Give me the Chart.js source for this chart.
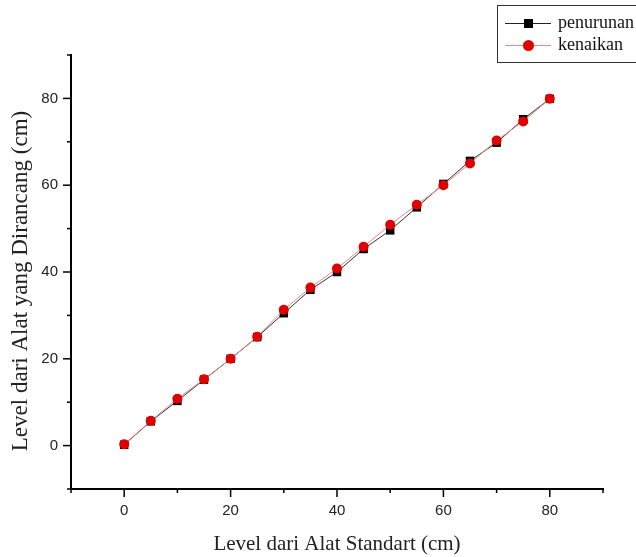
<!DOCTYPE html>
<html>
<head>
<meta charset="utf-8">
<script src="https://cdn.jsdelivr.net/npm/chart.js@4"></script>
<style>
  body { margin: 0; background: #fff; }
  #wrap { position: relative; width: 636px; height: 557px; overflow: hidden; }
  #legend {
    position: absolute; left: 497px; top: 5px; width: 150px; height: 56px;
    border: 1px solid #333; font-family: "Liberation Serif", "Times New Roman", serif;
    font-size: 18px; color: #111;
  }
  .row { position: absolute; left: 0; height: 20px; }
  .row .ln { position: absolute; left: 7px; top: 10px; width: 46px; height: 1px; }
  .row .mk { position: absolute; }
  .row .tx { position: absolute; left: 60px; top: -1px; white-space: nowrap; line-height: 20px; }
</style>
</head>
<body>
<div id="wrap">
  <canvas id="chart" width="636" height="557"></canvas>
  <div id="legend">
    <div class="row" style="top:7px">
      <div class="ln" style="background:#222"></div>
      <div class="mk" style="left:26px;top:6px;width:9px;height:9px;background:#000"></div>
      <div class="tx">penurunan</div>
    </div>
    <div class="row" style="top:29px">
      <div class="ln" style="background:#e88"></div>
      <div class="mk" style="left:25px;top:5px;width:11px;height:11px;border-radius:50%;background:#e00000"></div>
      <div class="tx">kenaikan</div>
    </div>
  </div>
</div>
<script>
// nilai
const levelStandart = [0, 5, 10, 15, 20, 25, 30, 35, 40, 45, 50, 55, 60, 65, 70, 75, 80];
const penurunan = [0.2, 5.6, 10.3, 15.2, 20.0, 25.0, 30.5, 35.9, 40.0, 45.3, 49.6, 54.9, 60.3, 65.6, 69.8, 75.2, 79.9];
const kenaikan = [0.3, 5.7, 10.8, 15.3, 20.0, 25.1, 31.3, 36.4, 40.8, 45.8, 50.9, 55.5, 60.0, 65.0, 70.3, 74.7, 79.9];
const majorTicks = [0, 20, 40, 60, 80];
const yTitle = "Level dari Alat yang Dirancang (cm)";

const toPoints = (ys) => levelStandart.map((x, i) => ({ x, y: ys[i] }));

// garis tick mayor/minor seperti di grafik asli
const tickMarks = {
  id: "tickMarks",
  afterDraw(chart) {
    const { ctx, scales } = chart;
    const xs = scales.x, ys = scales.y;
    ctx.save();
    ctx.strokeStyle = "#000";
    ctx.lineWidth = 1.5;
    for (let v = -10; v <= 90; v += 10) {
      const len = majorTicks.includes(v) ? 8 : 4;
      const px = xs.getPixelForValue(v);
      ctx.beginPath();
      ctx.moveTo(px, xs.top);
      ctx.lineTo(px, xs.top + len);
      ctx.stroke();
      const py = ys.getPixelForValue(v);
      ctx.beginPath();
      ctx.moveTo(ys.right, py);
      ctx.lineTo(ys.right - len, py);
      ctx.stroke();
    }
    ctx.restore();
  },
};

// judul sumbu y sedikit lebih besar dan agak ke bawah dari tengah
const yAxisTitle = {
  id: "yAxisTitle",
  afterDraw(chart) {
    const { ctx } = chart;
    ctx.save();
    ctx.translate(21, 281);
    ctx.rotate(-Math.PI / 2);
    ctx.font = "23px 'Liberation Serif', 'Times New Roman', serif";
    ctx.fillStyle = "#222";
    ctx.textAlign = "center";
    ctx.textBaseline = "middle";
    ctx.fillText(yTitle, 0, 0);
    ctx.restore();
  },
};

const tickFont = { family: "'Liberation Sans', Arial, sans-serif", size: 15 };

new Chart(document.getElementById("chart"), {
  type: "scatter",
  data: {
    datasets: [
      {
        label: "penurunan",
        data: toPoints(penurunan),
        showLine: true,
        borderColor: "#333",
        borderWidth: 1,
        backgroundColor: "#000",
        pointStyle: "rect",
        pointRadius: 6,
        pointBorderWidth: 0,
        order: 2,
      },
      {
        label: "kenaikan",
        data: toPoints(kenaikan),
        showLine: true,
        borderColor: "#e88",
        borderWidth: 1,
        backgroundColor: "#e00000",
        pointStyle: "circle",
        pointRadius: 5,
        pointBorderWidth: 0,
        order: 1,
      },
    ],
  },
  options: {
    responsive: false,
    animation: false,
    layout: { padding: { left: 0, right: 33, top: 55, bottom: 0 } },
    plugins: { legend: { display: false }, tooltip: { enabled: false } },
    scales: {
      x: {
        type: "linear",
        min: -10,
        max: 90,
        afterFit: (s) => { s.height = 68; },
        grid: { display: true, drawOnChartArea: false, drawTicks: false, color: "transparent" },
        border: { display: true, color: "#000", width: 2 },
        ticks: {
          stepSize: 10,
          padding: 13,
          color: "#222",
          font: tickFont,
          maxRotation: 0,
          autoSkip: false,
          callback: (v) => (majorTicks.includes(v) ? v : ""),
        },
        title: {
          display: true,
          text: "Level dari Alat Standart (cm)",
          color: "#222",
          font: { family: "'Liberation Serif', 'Times New Roman', serif", size: 21 },
          padding: { top: 0, bottom: 0 },
        },
      },
      y: {
        type: "linear",
        min: -10,
        max: 90,
        afterFit: (s) => { s.width = 71; },
        grid: { display: true, drawOnChartArea: false, drawTicks: false, color: "transparent" },
        border: { display: true, color: "#000", width: 2 },
        ticks: {
          stepSize: 10,
          padding: 13,
          color: "#222",
          font: tickFont,
          autoSkip: false,
          callback: (v) => (majorTicks.includes(v) ? v : ""),
        },
      },
    },
  },
  plugins: [tickMarks, yAxisTitle],
});
</script>
</body>
</html>
